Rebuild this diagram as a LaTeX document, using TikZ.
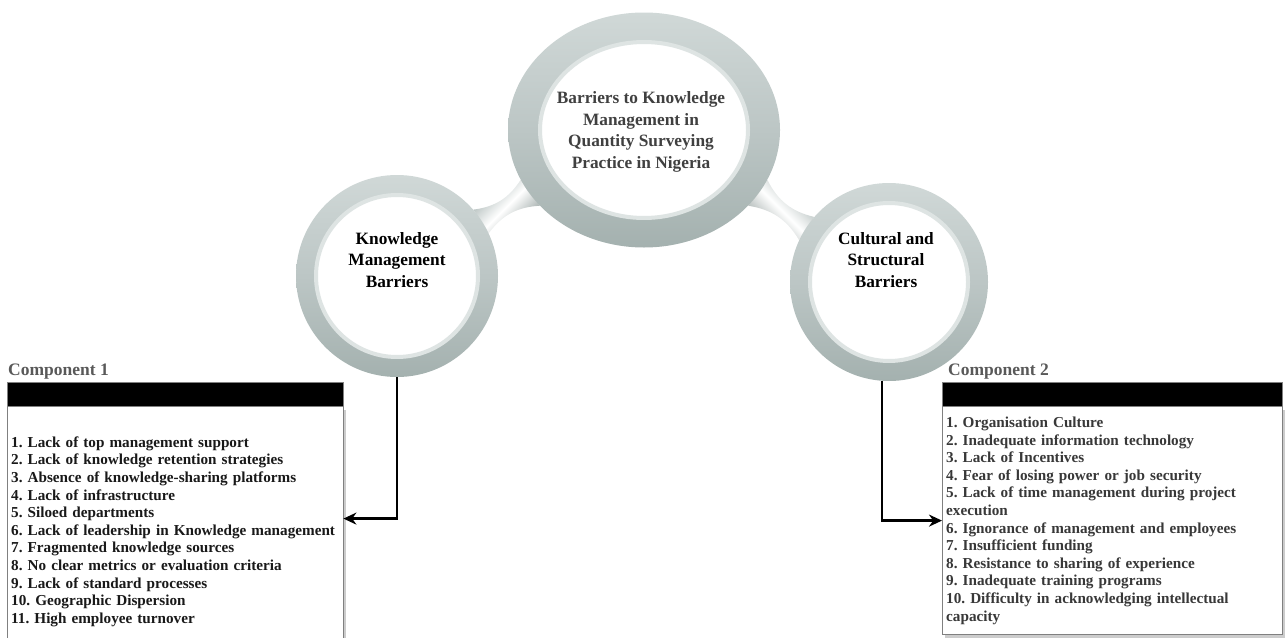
\documentclass[tikz,border=0pt]{standalone}
\usepackage{fontspec}
\setmainfont{Liberation Serif}
\usetikzlibrary{arrows.meta,positioning,shapes.geometric,shadows,backgrounds}
\definecolor{ringlt}{HTML}{D0D8D7}
\definecolor{ringmd}{HTML}{BCC6C5}
\definecolor{ringdk}{HTML}{A4B1AF}
\definecolor{rimc}{HTML}{DEE4E3}
\definecolor{txtgray}{HTML}{404040}

\begin{document}
\frenchspacing
\begin{tikzpicture}[x=1pt,y=1pt,
  ring/.style={draw=none, inner sep=0pt, top color=ringlt, bottom color=ringdk, middle color=ringmd},
  hole/.style={fill=white, draw=rimc, line width=4pt, inner sep=0pt},
  ctext/.style={align=center, font=\bfseries\fontsize{17.3}{21.7}\selectfont},
  neck/.style={top color=ringdk, bottom color=ringdk!90!black, middle color=white},
  bar/.style={fill=black, draw=gray, minimum height=24pt, inner sep=0pt, anchor=north west},
  body/.style={draw=gray, fill=white, align=left, inner xsep=4pt, inner ysep=0pt,
    font=\bfseries\fontsize{15.2}{17.6}\selectfont,
    drop shadow={shadow xshift=3pt, shadow yshift=-3pt, opacity=.4}},
  lbl/.style={text=black!65, font=\bfseries\fontsize{17.5}{20}\selectfont, anchor=south west, inner sep=1pt},
  arr/.style={line width=2.4pt, -{Stealth[length=13pt,width=12pt]}}]
  \useasboundingbox (0,0) rectangle (1287,-637);

  \node[ring, ellipse, minimum width=272pt, minimum height=235pt] (main) at (644,-130) {};
  \node[hole, ellipse, minimum width=208pt, minimum height=176pt] (mainin) at (main) {};
  \node[ctext, text=txtgray] (maint) at (641,-132) {Barriers to Knowledge\\Management in\\Quantity Surveying\\Practice in Nigeria};

  \node[ring, circle, minimum size=202pt] (kmb) at (397,-276) {};
  \node[hole, circle, minimum size=162pt] (kmbin) at (kmb) {};
  \node[ctext] (kmbt) at (397,-260) {Knowledge\\Management\\Barriers};

  \node[ring, circle, minimum size=198pt] (csb) at (889,-282) {};
  \node[hole, circle, minimum size=158pt] (csbin) at (csb) {};
  \node[ctext] (csbt) at (886,-260) {Cultural and\\Structural\\Barriers};

  \begin{scope}[on background layer]
    \path[neck, shading angle=45] (kmb.41) to[bend right=25] (main.202) -- (main.216) to[bend right=25] (kmb.25) -- cycle;
    \path[neck, shading angle=-45] (csb.139) to[bend left=25] (main.338) -- (main.324) to[bend left=25] (csb.155) -- cycle;
  \end{scope}

  \node[bar, minimum width=336pt] (bar1) at (7,-382) {};
  \node[body, text width=328pt, minimum height=250pt, below=0pt of bar1, text=black!90] (list1) {1. Lack of top management support\\
    2. Lack of knowledge retention strategies\\
    3. Absence of knowledge-sharing platforms\\
    4. Lack of infrastructure\\
    5. Siloed departments\\
    6. Lack of leadership in Knowledge management\\
    7. Fragmented knowledge sources\\
    8. No clear metrics or evaluation criteria\\
    9. Lack of standard processes\\
    10. Geographic Dispersion\\
    11. High employee turnover};
  \node[lbl] (lab1) at ([yshift=2pt]bar1.north west) {Component 1};

  \node[bar, minimum width=340pt] (bar2) at (942,-382) {};
  \node[body, text width=332pt, minimum height=228pt, below=0pt of bar2, text=black!78] (list2) {1. Organisation Culture\\
    2. Inadequate information technology\\
    3. Lack of Incentives\\
    4. Fear of losing power or job security\\
    5. Lack of time management during project\\
    execution\\
    6. Ignorance of management and employees\\
    7. Insufficient funding\\
    8. Resistance to sharing of experience\\
    9. Inadequate training programs\\
    10. Difficulty in acknowledging intellectual\\
    capacity};
  \node[lbl] (lab2) at ([xshift=5pt,yshift=2pt]bar2.north west) {Component 2};

  \draw[arr] (kmb.south) |- ([yshift=13pt]list1.east);
  \draw[arr] ([xshift=-7pt]csb.south) |- (list2.west);
\end{tikzpicture}
\end{document}
